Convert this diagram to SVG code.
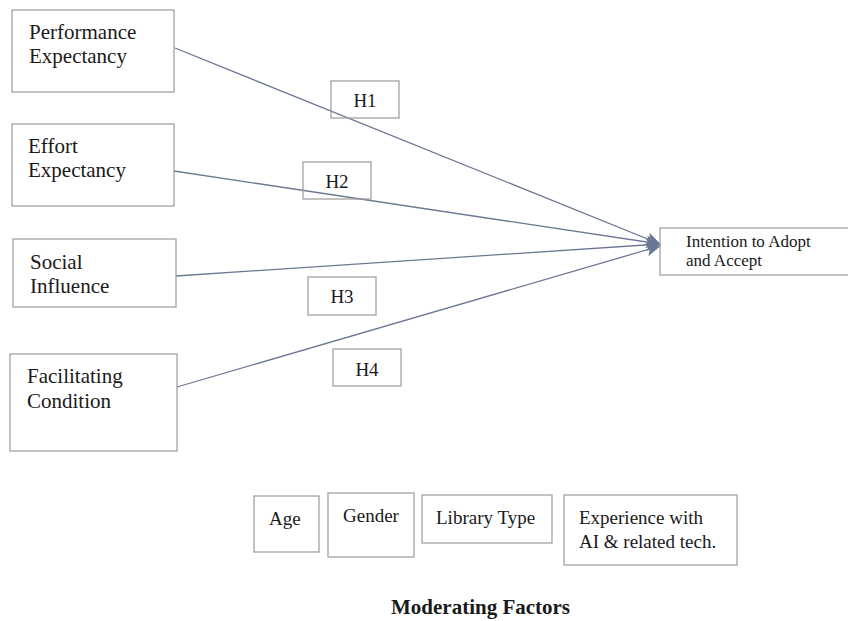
<svg xmlns="http://www.w3.org/2000/svg" width="848" height="621" viewBox="0 0 848 621">
<style>
.box{fill:none;stroke:#999;stroke-width:1.2}
.t{font-family:"Liberation Serif","Times New Roman",serif;fill:#1a1a1a}
.big{font-size:21px}
.med{font-size:19px}
.sm{font-size:17px}
.conn{stroke:#6b7894;stroke-width:1.3;fill:none}
</style>
<defs>
<marker id="ah" viewBox="0 0 14 12" refX="13" refY="6" markerUnits="userSpaceOnUse" markerWidth="15" markerHeight="13" orient="auto">
<path d="M0,0 L14,6 L0,12 L3,6 Z" fill="#6b7894"/>
</marker>
</defs>
<rect width="848" height="621" fill="#fff"/>
<g id="connectors">
<line class="conn" x1="175" y1="48" x2="660" y2="244" marker-end="url(#ah)"/>
<line class="conn" x1="174" y1="171" x2="660" y2="244" marker-end="url(#ah)"/>
<line class="conn" x1="176" y1="276" x2="660" y2="244" marker-end="url(#ah)"/>
<line class="conn" x1="177" y1="387" x2="660" y2="246" marker-end="url(#ah)"/>
</g>
<g id="performance">
<rect class="box" x="12" y="10" width="162" height="82"/>
<text class="t big" x="29" y="39">Performance</text>
<text class="t big" x="29" y="63">Expectancy</text>
</g>
<g id="effort">
<rect class="box" x="12" y="124" width="162" height="82"/>
<text class="t big" x="28" y="153">Effort</text>
<text class="t big" x="28" y="177">Expectancy</text>
</g>
<g id="social">
<rect class="box" x="13" y="239" width="163" height="68"/>
<text class="t big" x="30" y="269">Social</text>
<text class="t big" x="30" y="293">Influence</text>
</g>
<g id="facilitating">
<rect class="box" x="10" y="354" width="167" height="97"/>
<text class="t big" x="27" y="383">Facilitating</text>
<text class="t big" x="27" y="408">Condition</text>
</g>
<g id="h1">
<rect class="box" x="331" y="81" width="68" height="37"/>
<text class="t med" x="365" y="107" text-anchor="middle">H1</text>
</g>
<g id="h2">
<rect class="box" x="303" y="162" width="68" height="37"/>
<text class="t med" x="337" y="188" text-anchor="middle">H2</text>
</g>
<g id="h3">
<rect class="box" x="308" y="277" width="68" height="38"/>
<text class="t med" x="342" y="303" text-anchor="middle">H3</text>
</g>
<g id="h4">
<rect class="box" x="333" y="349" width="68" height="37"/>
<text class="t med" x="367" y="376" text-anchor="middle">H4</text>
</g>
<g id="intention">
<rect class="box" x="660" y="228" width="190" height="47"/>
<text class="t sm" x="686" y="247">Intention to Adopt</text>
<text class="t sm" x="686" y="266">and Accept</text>
</g>
<g id="age">
<rect class="box" x="254" y="496" width="65" height="56"/>
<text class="t med" x="269" y="525">Age</text>
</g>
<g id="gender">
<rect class="box" x="328" y="493" width="86" height="64"/>
<text class="t med" x="343" y="522">Gender</text>
</g>
<g id="library">
<rect class="box" x="422" y="495" width="130" height="48"/>
<text class="t med" x="436" y="524">Library Type</text>
</g>
<g id="experience">
<rect class="box" x="564" y="495" width="173" height="70"/>
<text class="t med" x="579" y="524">Experience with</text>
<text class="t med" x="579" y="548">AI &amp; related tech.</text>
</g>
<g id="label">
<text class="t" x="391" y="614" font-size="21" font-weight="bold">Moderating Factors</text>
</g>
</svg>
